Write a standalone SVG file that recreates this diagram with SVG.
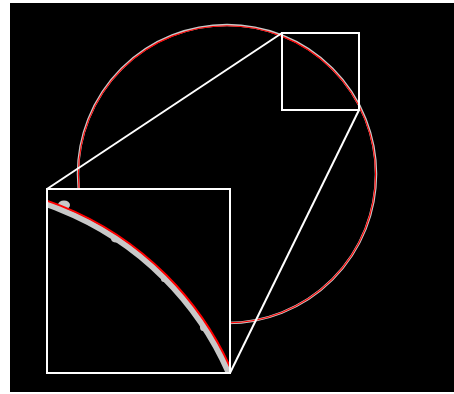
<svg xmlns="http://www.w3.org/2000/svg" width="454" height="394" viewBox="0 0 454 394">
  <style>
    .frame { fill: none; stroke: #ffffff; stroke-width: 2; }
    .conn { stroke: #ffffff; stroke-width: 2; fill: none; }
    .noisy { fill: none; stroke: #c8c8c8; }
    .fit { fill: none; stroke: #ff0000; }
    .blob { fill: #c8c8c8; }
  </style>
  <defs>
    <clipPath id="insetClip">
      <rect x="47" y="189" width="183" height="184"/>
    </clipPath>
  </defs>
  <rect x="0" y="0" width="454" height="394" fill="#ffffff"/>
  <rect x="10" y="3" width="444" height="389" fill="#000000"/>

  <g id="main-circle">
    <circle cx="227" cy="174" r="149" class="noisy" stroke-width="2.5"/>
    <circle cx="227" cy="174.3" r="148.6" class="fit" stroke-width="1.1"/>
  </g>

  <g id="connectors">
    <line x1="282" y1="33" x2="47" y2="189" class="conn"/>
    <line x1="359" y1="110" x2="230" y2="373" class="conn"/>
  </g>

  <g id="zoom-box">
    <rect x="282" y="33" width="77" height="77" class="frame"/>
  </g>

  <g id="inset">
    <rect x="47" y="189" width="183" height="184" fill="#000000"/>
    <g clip-path="url(#insetClip)">
      <circle cx="-54.7" cy="496.5" r="310" class="noisy" stroke-width="5"/>
      <circle cx="-54.7" cy="496.5" r="307.5" class="noisy" stroke-width="2.5"/>
      <ellipse cx="64" cy="205" rx="6" ry="4.5" class="blob"/>
      <ellipse cx="116" cy="239" rx="5" ry="3.5" class="blob"/>
      <ellipse cx="164" cy="279" rx="3" ry="3" class="blob"/>
      <ellipse cx="203" cy="327" rx="3" ry="4" class="blob"/>
      <circle cx="-54.7" cy="496.5" r="312.8" class="fit" stroke-width="2"/>
    </g>
    <rect x="47" y="189" width="183" height="184" class="frame"/>
  </g>
</svg>
